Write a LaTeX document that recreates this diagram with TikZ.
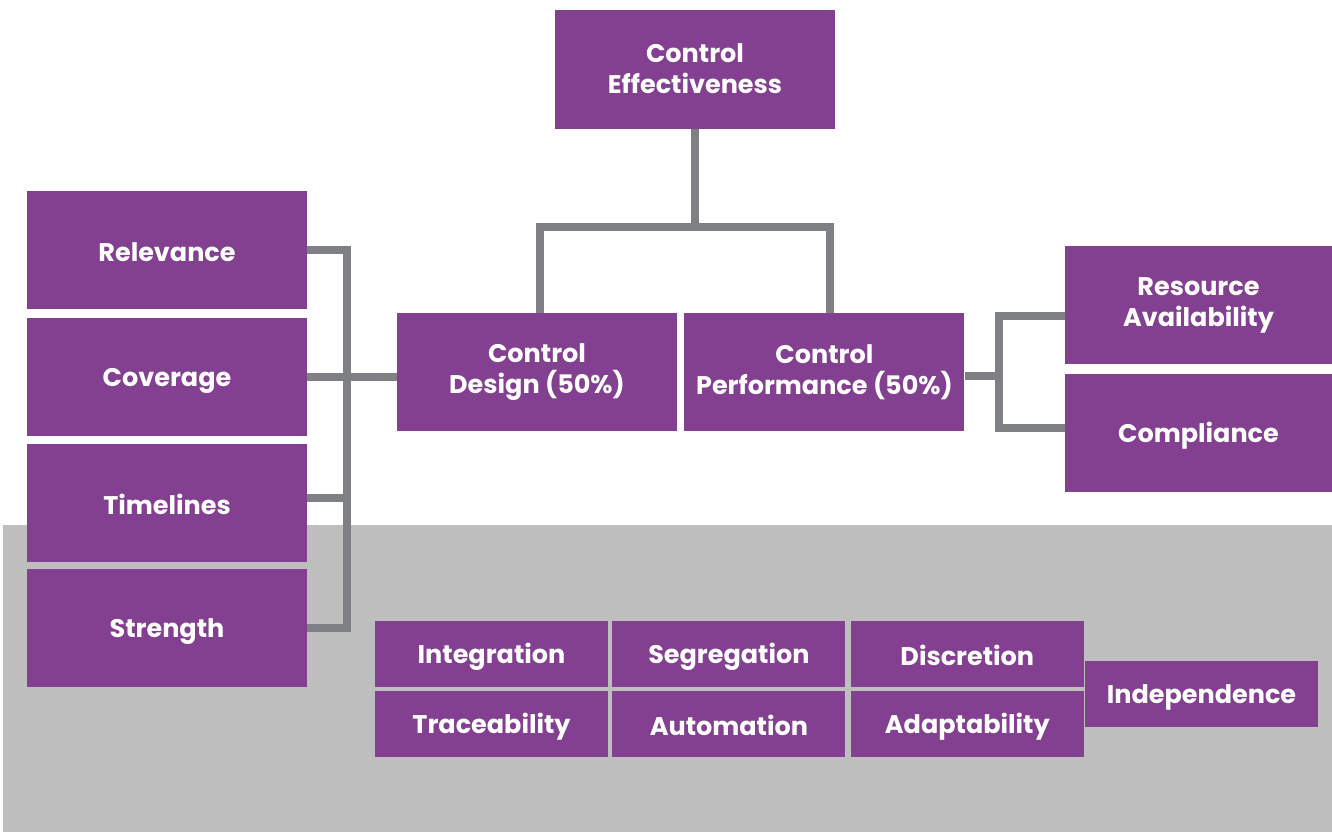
\documentclass[tikz,border=0pt]{standalone}
\usepackage{fontspec}
\setmainfont{Poppins}
\usetikzlibrary{positioning, calc}
\definecolor{cBox}{HTML}{834090}
\definecolor{cLink}{HTML}{7F8083}
\definecolor{cShade}{HTML}{BEBEBE}
\newcommand\boxstrut{\rule[-0.1em]{0pt}{1.1em}}

\begin{document}
\begin{tikzpicture}[
  x=1pt, y=-1pt,
  box/.style={rectangle, fill=cBox, text=white, align=center, inner sep=0pt,
              minimum width=280pt, minimum height=118pt,
              execute at begin node=\boxstrut, execute at end node=\boxstrut,
              font=\bfseries\fontsize{25.5}{31}\selectfont},
  sidebox/.style={box, minimum width=267pt},
  small/.style={box, minimum width=233pt, minimum height=66pt},
  link/.style={draw=cLink, line width=8pt, line join=miter},
]
\useasboundingbox (0,0) rectangle (1332,832);
\fill[cShade] (3,525) rectangle (1332,832);

% =========================== top of the tree ===========================
\node[box] (ce) at (695,69.5) {Control\\Effectiveness};
\node[box] (design) at (537,372) {Control\\Design (50\%)};
\node[box, right=7pt of design] (perf) {Control\\Performance (50\%)};

% =========================== design factors (left) ===========================
\node[box] (rel) at (167,250) {Relevance};
\node[box, below=9pt of rel] (cov) {Coverage};
\node[box, below=7pt of cov] (tim) {Timelines};
\node[box, below=7pt of tim] (str) {Strength};

% =========================== performance factors (right) ===========================
\node[sidebox] (res) at (1198.5,305) {Resource\\Availability};
\node[sidebox, below=10pt of res] (comp) {Compliance};

% =========================== attribute grid (bottom) ===========================
\node[small] (int) at (491.5,654) {Integration};
\node[small, right=4pt of int] (seg) {Segregation};
\node[small, right=5pt of seg] (dis) {Discretion};
\node[small, below=4pt of int] (tra) {Traceability};
\node[small, below=4pt of seg] (aut) {Automation};
\node[small, below=4pt of dis] (ada) {Adaptability};
\node[small] (ind) at (1201.5,694) {Independence};

% connectors
\draw[link] (ce.south) -- ++(0,99);
\draw[link] ([xshift=3pt]design.north) -- ++(0,-86) -| ([xshift=6pt]perf.north);
\draw[link] (rel.east) -- ++(40,0) |- (str.east);
\draw[link] ([yshift=5pt]tim.east) -- ++(40,0);
\draw[link] (cov.east) -- (cov.east -| design.west);
\draw[link] ([yshift=-4pt]perf.east) -- ++(35,0);
\draw[link] ([yshift=-11pt]res.west) -- ++(-66,0) |- ([yshift=5pt]comp.west);

\end{tikzpicture}
\end{document}
